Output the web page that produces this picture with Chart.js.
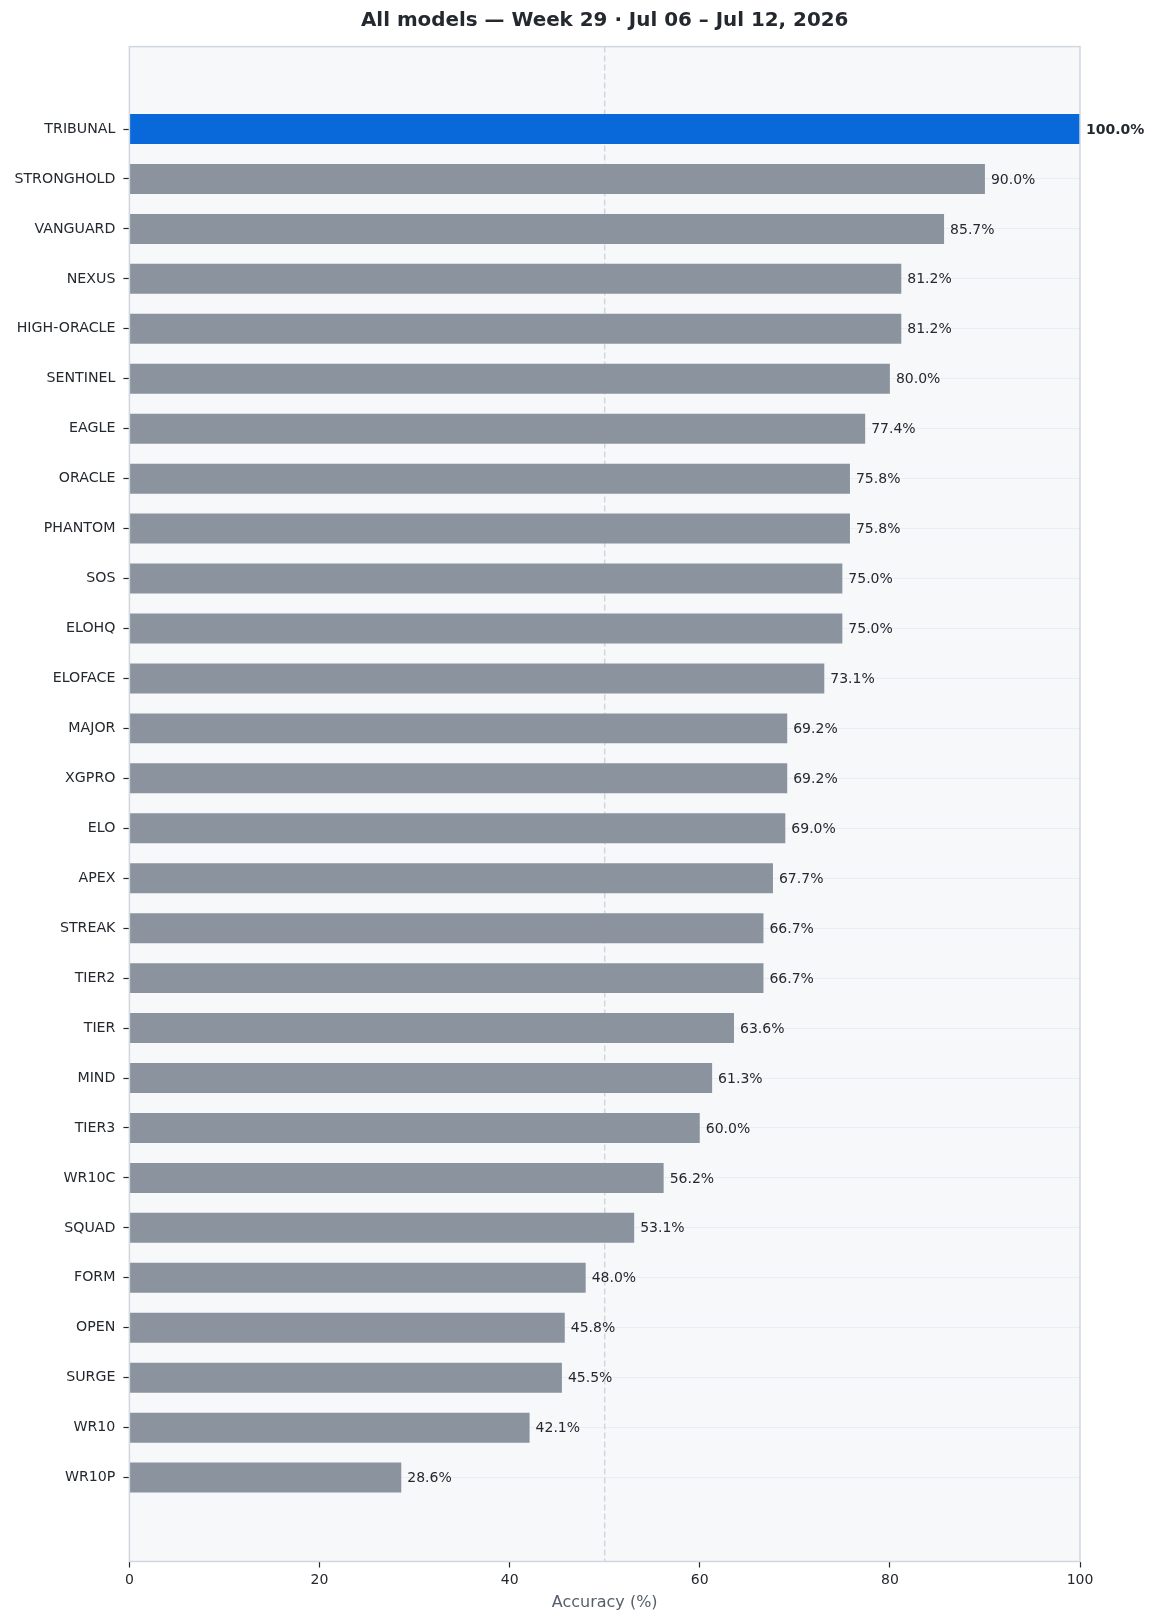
<!DOCTYPE html>
<html>
<head>
<meta charset="utf-8">
<script src="https://cdn.jsdelivr.net/npm/chart.js@4.4.1/dist/chart.umd.min.js"></script>
<style>
  html, body { margin: 0; padding: 0; background: #ffffff; }
  #c { display: block; }
</style>
</head>
<body>
<canvas id="c" width="1158" height="1623"></canvas>
<script>
const titleText = "All models — Week 29 · Jul 06 – Jul 12, 2026";
const categories = ["TRIBUNAL","STRONGHOLD","VANGUARD","NEXUS","HIGH-ORACLE","SENTINEL","EAGLE","ORACLE","PHANTOM","SOS","ELOHQ","ELOFACE","MAJOR","XGPRO","ELO","APEX","STREAK","TIER2","TIER","MIND","TIER3","WR10C","SQUAD","FORM","OPEN","SURGE","WR10","WR10P"];
const accuracy = [100.0,90.0,85.7,81.2,81.2,80.0,77.4,75.8,75.8,75.0,75.0,73.1,69.2,69.2,69.0,67.7,66.7,66.7,63.6,61.3,60.0,56.2,53.1,48.0,45.8,45.5,42.1,28.6];
const highlighted = ["TRIBUNAL"];
const xTicks = [0,20,40,60,80,100];
const referenceLine = 50;
const xAxisTitle = "Accuracy (%)";

const FONT = "'DejaVu Sans', sans-serif";
const TEXT = "#24292f";
const GRAY = "#8b949e";
const BLUE = "#0969da";

const points = accuracy.map((v, i) => ({ x: v, y: i }));
const colors = categories.map(c => highlighted.includes(c) ? BLUE : GRAY);

const framePlugin = {
  id: 'frame',
  beforeDraw(chart) {
    const { ctx, chartArea: a } = chart;
    ctx.save();
    ctx.fillStyle = '#f6f8fa';
    ctx.fillRect(a.left, a.top, a.right - a.left, a.bottom - a.top);
    ctx.restore();
  },
  beforeDatasetsDraw(chart) {
    const { ctx, chartArea: a, scales } = chart;
    const x = scales.x.getPixelForValue(referenceLine);
    ctx.save();
    ctx.strokeStyle = '#d0d7de';
    ctx.lineWidth = 1.5;
    ctx.setLineDash([6, 3]);
    ctx.beginPath();
    ctx.moveTo(x, a.top);
    ctx.lineTo(x, a.bottom);
    ctx.stroke();
    ctx.restore();
  },
  afterDatasetsDraw(chart) {
    const { ctx, chartArea: a } = chart;
    const meta = chart.getDatasetMeta(0);
    ctx.save();
    ctx.textBaseline = 'middle';
    ctx.textAlign = 'left';
    meta.data.forEach((bar, i) => {
      const bold = highlighted.includes(categories[i]);
      ctx.font = (bold ? 'bold ' : '') + '14px ' + FONT;
      ctx.fillStyle = TEXT;
      ctx.fillText(accuracy[i].toFixed(1) + '%', bar.x + 6, bar.y + 1);
    });
    ctx.strokeStyle = '#d0d7de';
    ctx.lineWidth = 1.5;
    ctx.setLineDash([]);
    ctx.strokeRect(a.left, a.top, a.right - a.left, a.bottom - a.top);
    ctx.font = 'bold 19.9px ' + FONT;
    ctx.textAlign = 'center';
    ctx.textBaseline = 'middle';
    ctx.fillStyle = TEXT;
    ctx.fillText(titleText, (a.left + a.right) / 2, 21);
    ctx.restore();
  }
};

new Chart(document.getElementById('c'), {
  type: 'bar',
  data: {
    datasets: [{
      data: points,
      backgroundColor: colors,
      borderWidth: 0,
      categoryPercentage: 1.0,
      barPercentage: 0.6
    }]
  },
  options: {
    indexAxis: 'y',
    responsive: false,
    animation: false,
    devicePixelRatio: 1,
    layout: { padding: { left: 0, right: 78, top: 46.6, bottom: 0 } },
    plugins: { legend: { display: false }, tooltip: { enabled: false }, title: { display: false } },
    scales: {
      x: {
        type: 'linear',
        min: 0, max: 100,
        offset: false,
        afterBuildTicks: (s) => { s.ticks = xTicks.map(v => ({ value: v })); },
        afterFit: (s) => { s.height = 61.5; },
        border: { display: false },
        grid: { offset: false, drawOnChartArea: false, drawTicks: true, tickLength: 6, tickColor: TEXT, tickWidth: 1.2 },
        ticks: { color: TEXT, font: { family: FONT, size: 14 }, padding: 4, maxRotation: 0 },
        title: { display: true, text: xAxisTitle, color: '#57606a', font: { family: FONT, size: 16 }, padding: { top: 0, bottom: 10.7 } }
      },
      y: {
        type: 'linear',
        reverse: true,
        offset: false,
        min: -1.65, max: 28.68,
        afterBuildTicks: (s) => { s.ticks = categories.map((_, i) => ({ value: i })); },
        afterFit: (s) => { s.width = 129.4; },
        border: { display: false },
        grid: { offset: false, color: '#eaeef2', lineWidth: 1, drawTicks: true, tickLength: 6, tickColor: TEXT, tickWidth: 1.2 },
        ticks: { color: TEXT, font: { family: FONT, size: 14.2 }, padding: 8, autoSkip: false,
          callback: (v) => categories[v] !== undefined ? categories[v] : '' }
      }
    }
  },
  plugins: [framePlugin]
});
</script>
</body>
</html>
